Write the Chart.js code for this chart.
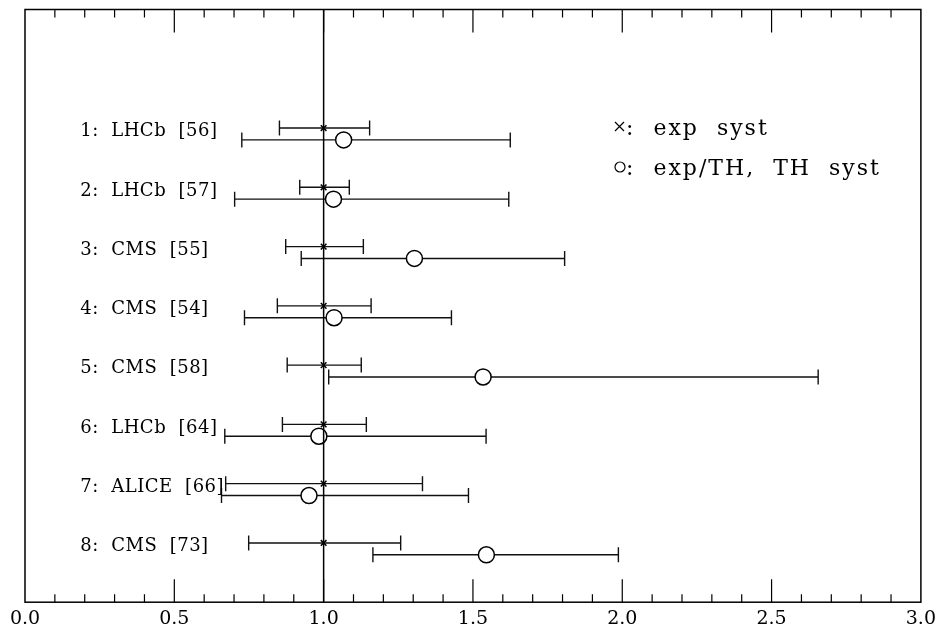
<!DOCTYPE html>
<html>
<head>
<meta charset="utf-8">
<script src="https://cdn.jsdelivr.net/npm/chart.js@4"></script>
<style>
    body { margin: 0; background: #fff; }
    canvas { display: block; }
</style>
</head>
<body>
<canvas id="statsChart" width="941" height="635"></canvas>
<script>
// Row labels (top to bottom)
const experiments = ["1: LHCb [56]", "2: LHCb [57]", "3: CMS [55]", "4: CMS [54]", "5: CMS [58]", "6: LHCb [64]", "7: ALICE [66]", "8: CMS [73]"];
const rowPos = [2, 3, 4, 5, 6, 7, 8, 9];

// x: exp syst
const expCentral = [1, 1, 1, 1, 1, 1, 1, 1];
const expLow = [0.852, 0.920, 0.873, 0.845, 0.878, 0.862, 0.672, 0.749];
const expHigh = [1.154, 1.086, 1.133, 1.159, 1.126, 1.143, 1.331, 1.258];

// o: exp/TH, TH syst
const thCentral = [1.067, 1.033, 1.304, 1.035, 1.534, 0.984, 0.951, 1.545];
const thLow = [0.726, 0.702, 0.925, 0.735, 1.017, 0.669, 0.658, 1.165];
const thHigh = [1.625, 1.620, 1.807, 1.428, 2.656, 1.544, 1.485, 1.987];
const thOffset = 0.2;

const legendLines = ["exp  syst", "exp/TH,  TH  syst"];

const xMin = 0;
const xMax = 3;
const majorStep = 0.5;
const minorStep = 0.1;

const serif = "'DejaVu Serif', 'Liberation Serif', serif";

const expPoints = expCentral.map((v, i) => ({ x: v, y: rowPos[i], lo: expLow[i], hi: expHigh[i] }));
const thPoints = thCentral.map((v, i) => ({ x: v, y: rowPos[i] + thOffset, lo: thLow[i], hi: thHigh[i] }));

function drawBar(ctx, xs, ys, p)
{
    const x0 = xs.getPixelForValue(p.lo);
    const x1 = xs.getPixelForValue(p.hi);
    const y = ys.getPixelForValue(p.y);
    const cap = 7.5;
    ctx.beginPath();
    ctx.moveTo(x0, y);
    ctx.lineTo(x1, y);
    ctx.moveTo(x0, y - cap);
    ctx.lineTo(x0, y + cap);
    ctx.moveTo(x1, y - cap);
    ctx.lineTo(x1, y + cap);
    ctx.stroke();
}

const errorBars = {
    id: "errorBars",
    beforeDatasetsDraw(chart)
    {
        const { ctx, scales: { x, y } } = chart;
        ctx.save();
        ctx.strokeStyle = "#111";
        ctx.lineWidth = 1.4;
        expPoints.forEach(p => drawBar(ctx, x, y, p));
        thPoints.forEach(p => drawBar(ctx, x, y, p));
        ctx.restore();
    },
    afterDatasetsDraw(chart)
    {
        const { ctx, chartArea: a, scales: { x, y } } = chart;
        ctx.save();
        ctx.strokeStyle = "#000";
        ctx.lineWidth = 1.5;

        // frame
        ctx.strokeRect(a.left, a.top, a.right - a.left, a.bottom - a.top);

        // reference line at 1
        const x1 = x.getPixelForValue(1);
        ctx.beginPath();
        ctx.moveTo(x1, a.top);
        ctx.lineTo(x1, a.bottom);
        ctx.stroke();

        // major + minor ticks, top and bottom, pointing inward
        ctx.lineWidth = 1.2;
        const n = Math.round((xMax - xMin) / minorStep);
        for (let i = 1; i < n; i++)
        {
            const v = xMin + i * minorStep;
            const px = x.getPixelForValue(v);
            const major = i % Math.round(majorStep / minorStep) === 0;
            const len = major ? 23 : 8;
            ctx.beginPath();
            ctx.moveTo(px, a.bottom);
            ctx.lineTo(px, a.bottom - len);
            ctx.moveTo(px, a.top);
            ctx.lineTo(px, a.top + len);
            ctx.stroke();
        }

        // row labels
        ctx.fillStyle = "#000";
        ctx.font = "18px " + serif;
        ctx.letterSpacing = "0.5px";
        ctx.textBaseline = "middle";
        ctx.textAlign = "left";
        const lx = x.getPixelForValue(0.185);
        experiments.forEach((name, i) =>
        {
            ctx.fillText(name.replace(/ /g, "  "), lx, y.getPixelForValue(rowPos[i] + 0.06));
        });

        // legend
        ctx.font = "22px " + serif;
        ctx.letterSpacing = "2px";
        ctx.textBaseline = "alphabetic";
        const gx = 615;
        const gy = [135, 175];
        ctx.lineWidth = 1.2;
        ctx.beginPath();
        ctx.moveTo(gx, gy[0] - 13);
        ctx.lineTo(gx + 9, gy[0] - 4);
        ctx.moveTo(gx + 9, gy[0] - 13);
        ctx.lineTo(gx, gy[0] - 4);
        ctx.stroke();
        ctx.beginPath();
        ctx.arc(gx + 5, gy[1] - 8, 5, 0, Math.PI * 2);
        ctx.stroke();
        legendLines.forEach((t, i) => ctx.fillText(":  " + t, gx + 11, gy[i]));
        ctx.restore();
    }
};

const ctx = document.getElementById("statsChart");

const chart = new Chart(ctx, {
    type: "scatter",
    data: {
        datasets: [
            {
                label: "exp syst",
                data: expPoints,
                pointStyle: "crossRot",
                pointRadius: 4,
                borderColor: "#000",
                borderWidth: 1.5
            },
            {
                label: "exp/TH, TH syst",
                data: thPoints,
                pointStyle: "circle",
                pointRadius: 8,
                backgroundColor: "#fff",
                borderColor: "#000",
                borderWidth: 1.5
            }
        ]
    },
    options: {
        responsive: false,
        animation: false,
        events: [],
        layout: { padding: { left: 25, right: 19, top: 7, bottom: 0 } },
        plugins: {
            legend: { display: false },
            tooltip: { enabled: false }
        },
        scales: {
            x: {
                type: "linear",
                min: xMin,
                max: xMax,
                grid: { display: false, drawTicks: false },
                border: { display: false },
                ticks: {
                    stepSize: majorStep,
                    padding: 5,
                    color: "#000",
                    font: { family: serif, size: 19 },
                    callback: v => v.toFixed(1)
                }
            },
            y: {
                type: "linear",
                min: 0,
                max: 10,
                reverse: true,
                display: false
            }
        }
    },
    plugins: [errorBars]
});
</script>
</body>
</html>
